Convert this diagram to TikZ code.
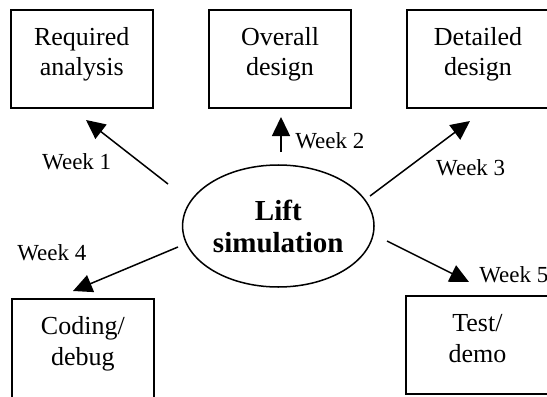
\documentclass[tikz,border=0pt]{standalone}
\usepackage{fontspec}
\setmainfont{Liberation Serif}
\usetikzlibrary{arrows.meta,shapes.geometric}

\begin{document}
\begin{tikzpicture}[
    task/.style={draw, line width=2pt, minimum width=4.97cm, inner ysep=0pt, text height=2.31cm, text depth=1.12cm, align=center, font=\fontsize{25.9}{29.9}\selectfont},
    hub/.style={draw, ellipse, line width=1.5pt, minimum width=6.70cm, minimum height=4.27cm, inner sep=0pt, align=center, font=\fontsize{28.9}{31.9}\selectfont\bfseries},
    arr/.style={-{Triangle[length=19pt, width=18pt]}, line width=1.5pt},
    wk/.style={anchor=base west, inner sep=0pt, font=\fontsize{22.9}{26}\selectfont}
]
\clip (0,0) rectangle (19.145,-13.86);

\node[task] (req) at (2.86,-2.065) {Required\\analysis};
\node[task] (ovr) at (9.80,-2.065) {Overall\\design};
\node[task] (det) at (16.73,-2.065) {Detailed\\design};
\node[task, anchor=north, text depth=2.2cm] (code) at (2.90,-10.43) {Coding/\\debug};
\node[task] (test) at (16.71,-12.075) {Test/\\demo};

\node[hub] (sim) at (9.74,-7.91) {Lift\\simulation};

\node[wk] (w1) at (1.47,-5.915) {Week 1};
\node[wk] (w2) at (10.33,-5.18) {Week 2};
\node[wk] (w3) at (15.26,-6.125) {Week 3};
\node[wk] (w4) at (0.60,-9.10) {Week 4};
\node[wk] (w5) at (16.77,-9.87) {Week 5};

\coordinate (s1) at (5.88,-6.44);
\coordinate (e1) at (3.01,-4.20);
\coordinate (s2) at (9.835,-5.32);
\coordinate (e2) at (9.835,-4.095);
\coordinate (s3) at (12.95,-6.86);
\coordinate (e3) at (16.45,-4.235);
\coordinate (s4) at (6.23,-8.645);
\coordinate (e4) at (2.555,-10.185);
\coordinate (s5) at (13.545,-8.435);
\coordinate (e5) at (16.415,-9.87);

\draw[arr] (s1) -- (e1);
\draw[arr] (s2) -- (e2);
\draw[arr] (s3) -- (e3);
\draw[arr] (s4) -- (e4);
\draw[arr] (s5) -- (e5);
\end{tikzpicture}
\end{document}
